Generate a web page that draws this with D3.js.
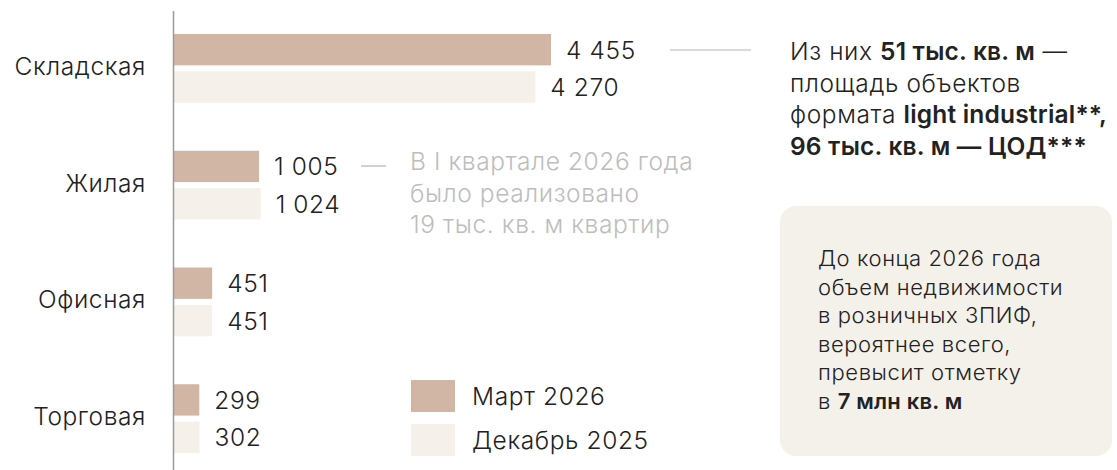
<!DOCTYPE html>
<html>
<head>
<meta charset="utf-8">
<script src="https://cdn.jsdelivr.net/npm/d3@7"></script>
<style>
  html, body { margin: 0; padding: 0; background: #fff; }
  svg { display: block; font-family: "Inter", "Lato", sans-serif; font-weight: 300; letter-spacing: 0.6px; }
</style>
</head>
<body>
<svg id="chart" width="1117" height="470"></svg>
<script>
// data
const categories = ["Складская", "Жилая", "Офисная", "Торговая"];
const seriesNames = ["Март 2026", "Декабрь 2025"];
const march2026 = [4455, 1005, 451, 299];
const dec2025 = [4270, 1024, 451, 302];
const seriesColors = ["#d1b6a5", "#f5f0ea"];

const svg = d3.select("#chart");
const fmt = d => d3.format(",")(d).replace(/,/g, " ");

// scales
const x0 = 174;
const x = d3.scaleLinear().domain([0, 4455]).range([x0, 551]);
const y = d3.scaleBand().domain(categories).range([34, 453]).paddingInner(0.411).paddingOuter(0);
const ySub = d3.scaleBand().domain(seriesNames).range([0, y.bandwidth()]).paddingInner(0.162);

const rows = [];
categories.forEach((c, i) => {
    rows.push({ cat: c, s: seriesNames[0], v: march2026[i], color: seriesColors[0] });
    rows.push({ cat: c, s: seriesNames[1], v: dec2025[i], color: seriesColors[1] });
});

// bars
svg.append("g").selectAll("rect")
    .data(rows)
    .enter()
    .append("rect")
    .attr("x", x0)
    .attr("y", d => y(d.cat) + ySub(d.s))
    .attr("width", d => x(d.v) - x0)
    .attr("height", ySub.bandwidth())
    .attr("fill", d => d.color);

// value labels
svg.append("g").selectAll("text")
    .data(rows)
    .enter()
    .append("text")
    .attr("x", d => x(d.v) + 15)
    .attr("y", d => y(d.cat) + ySub(d.s) + ySub.bandwidth() / 2)
    .attr("dy", "0.37em")
    .attr("font-size", 24.5)
    .attr("fill", "#222")
    .text(d => fmt(d.v));

// category labels
svg.append("g").selectAll("text")
    .data(categories)
    .enter()
    .append("text")
    .attr("x", 146)
    .attr("y", d => y(d) + y.bandwidth() / 2 - 2)
    .attr("dy", "0.35em")
    .attr("text-anchor", "end")
    .attr("font-size", 24.5)
    .attr("fill", "#222")
    .text(d => d);

// axis line
svg.append("line")
    .attr("x1", x0 - 0.5).attr("x2", x0 - 0.5)
    .attr("y1", 11).attr("y2", 470)
    .attr("stroke", "#9a9a9a").attr("stroke-width", 1.5);

// leader lines
svg.append("line").attr("x1", 670).attr("x2", 751).attr("y1", 50).attr("y2", 50)
    .attr("stroke", "#b5b5b5").attr("stroke-width", 1.2);
svg.append("line").attr("x1", 361).attr("x2", 386).attr("y1", 166).attr("y2", 166)
    .attr("stroke", "#b5b5b5").attr("stroke-width", 1.2);

// annotation helper: lines are arrays of [text, bold] pieces
function note(xp, yp, lh, size, color, lines) {
    const t = svg.append("text")
        .attr("font-size", size)
        .attr("fill", color);
    lines.forEach((parts, i) => {
        parts.forEach((p, j) => {
            const ts = t.append("tspan").text(p[0]);
            if (j === 0) ts.attr("x", xp).attr("y", yp + i * lh);
            if (p[1]) ts.attr("font-weight", 600).attr("letter-spacing", 0.2);
        });
    });
}

note(790, 60, 31.7, 24.5, "#222", [
    [["Из них ", false], ["51 тыс. кв. м", true], [" —", false]],
    [["площадь объектов", false]],
    [["формата ", false], ["light industrial**,", true]],
    [["96 тыс. кв. м — ЦОД***", true]]
]);

note(410, 170, 31.5, 24.5, "#bdbdbd", [
    [["В I квартале 2026 года", false]],
    [["было реализовано", false]],
    [["19 тыс. кв. м квартир", false]]
]);

// info box
svg.append("rect")
    .attr("x", 780).attr("y", 206)
    .attr("width", 332).attr("height", 250)
    .attr("rx", 16)
    .attr("fill", "#f4f0ea");

note(818, 266, 28.6, 22, "#222", [
    [["До конца 2026 года", false]],
    [["объем недвижимости", false]],
    [["в розничных ЗПИФ,", false]],
    [["вероятнее всего,", false]],
    [["превысит отметку", false]],
    [["в ", false], ["7 млн кв. м", true]]
]);

// legend
const legend = svg.append("g").selectAll("g")
    .data(seriesNames)
    .enter()
    .append("g")
    .attr("transform", (d, i) => "translate(411," + (380 + i * 44) + ")");
legend.append("rect")
    .attr("width", 44).attr("height", 32)
    .attr("fill", (d, i) => seriesColors[i]);
legend.append("text")
    .attr("x", 61).attr("y", 16)
    .attr("dy", "0.35em")
    .attr("font-size", 24.5)
    .attr("fill", "#222")
    .text(d => d);
</script>
</body>
</html>
